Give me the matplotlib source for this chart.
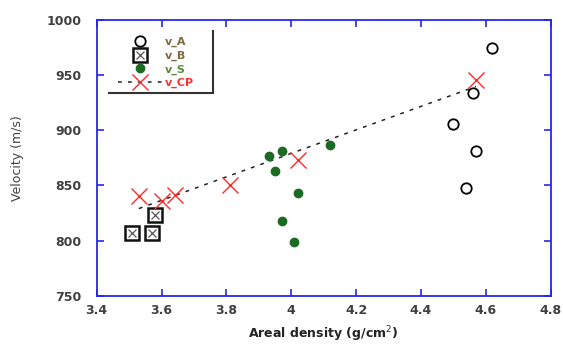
import numpy as np
import matplotlib
matplotlib.use("Agg")
import matplotlib.pyplot as plt
from matplotlib.lines import Line2D
from matplotlib.legend_handler import HandlerTuple

# data
va_x = [4.62, 4.56, 4.50, 4.57, 4.54]
va_y = [975, 934, 906, 881, 848]
vb_x = [3.51, 3.57, 3.58]
vb_y = [807, 807, 823]
vs_x = [3.93, 3.97, 3.95, 4.12, 4.02, 3.97, 4.01]
vs_y = [877, 881, 863, 887, 843, 818, 799]
vcp_x = [3.53, 3.60, 3.64, 3.81, 4.02, 4.57]
vcp_y = [840, 836, 841, 850, 873, 946]
xticks = [3.4, 3.6, 3.8, 4.0, 4.2, 4.4, 4.6, 4.8]
xticklabels = ["3.4", "3.6", "3.8", "4", "4.2", "4.4", "4.6", "4.8"]
yticks = [750, 800, 850, 900, 950, 1000]

plt.rcParams['font.family'] = ['DejaVu Sans']

blue = '#2626ee'
txt = '#404040'

fig = plt.figure(figsize=(5.63, 3.47), dpi=100)
ax = fig.add_axes([0.1718, 0.1478, 0.978 - 0.1718, 0.9424 - 0.1478])

# linear fit through the CP points
coef = np.polyfit(vcp_x, vcp_y, 1)
fx = np.array([min(vcp_x), max(vcp_x)])
ax.plot(fx, np.polyval(coef, fx), color='#222222', lw=1.1, dashes=(2.5, 4), zorder=2)

ax.plot(va_x, va_y, 'o', ms=7.5, mfc='none', mec='black', mew=1.3, zorder=3)
ax.plot(vb_x, vb_y, 's', ms=10, mfc='white', mec='#111111', mew=1.8, zorder=3)
ax.plot(vb_x, vb_y, 'x', ms=6, mec='#555555', mew=0.9, zorder=4)
ax.plot(vs_x, vs_y, 'o', ms=6, mfc='#1b6b23', mec='#1b6b23', zorder=3)
ax.plot(vcp_x, vcp_y, 'x', ms=11, mec='#ff2a2a', mew=1.0, zorder=4)

ax.set_xlim(3.4, 4.8)
ax.set_ylim(750, 1000)
ax.set_xticks(xticks)
ax.set_xticklabels(xticklabels)
ax.set_yticks(yticks)
for s in ax.spines.values():
    s.set_color(blue)
    s.set_linewidth(1.3)
ax.tick_params(direction='in', length=5, width=1.2, color=blue, top=True, right=True,
               labelsize=9, labelcolor=txt)
ax.tick_params(axis='x', pad=6)
ax.tick_params(axis='y', pad=11)
for lab in ax.get_xticklabels() + ax.get_yticklabels():
    lab.set_fontweight('bold')

ax.set_xlabel('Areal density (g/cm$^2$)', fontsize=9, fontweight='bold', color='#222222',
              labelpad=5)
ax.set_ylabel('Velocity (m/s)', fontsize=9, color=txt, labelpad=16)

# legend
h_a = Line2D([], [], ls='none', marker='o', ms=7.5, mfc='none', mec='black', mew=1.3)
h_b1 = Line2D([], [], ls='none', marker='s', ms=10, mfc='white', mec='#111111', mew=1.8)
h_b2 = Line2D([], [], ls='none', marker='x', ms=6, mec='#555555', mew=0.9)
h_s = Line2D([], [], ls='none', marker='o', ms=6, mfc='#1b6b23', mec='#1b6b23')
h_cp = Line2D([], [], color='#222222', lw=1.1, dashes=(2.5, 4), marker='x', ms=11,
              mec='#ff2a2a', mew=1.0)
leg = ax.legend([h_a, (h_b1, h_b2), h_s, h_cp], ['v_A', 'v_B', 'v_S', 'v_CP'],
                handler_map={tuple: HandlerTuple(ndivide=1, pad=0)},
                loc='upper left', bbox_to_anchor=(0.2096, 0.893), bbox_transform=fig.transFigure,
                frameon=False, prop={'size': 8, 'weight': 'bold'}, handlelength=4.0,
                handletextpad=0.2, labelspacing=0.3, borderpad=0, borderaxespad=0)
for t, c in zip(leg.get_texts(), ['#7d6a40', '#7d6a40', '#5c8a3a', '#ff3030']):
    t.set_color(c)

# legend shadow edges (right and bottom)
fig.add_artist(Line2D([0.378, 0.378], [0.911, 0.732], color='#333333', lw=1.5,
                      transform=fig.transFigure))
fig.add_artist(Line2D([0.194, 0.378], [0.732, 0.732], color='#333333', lw=1.5,
                      transform=fig.transFigure))

fig.savefig('out.png', dpi=100)
